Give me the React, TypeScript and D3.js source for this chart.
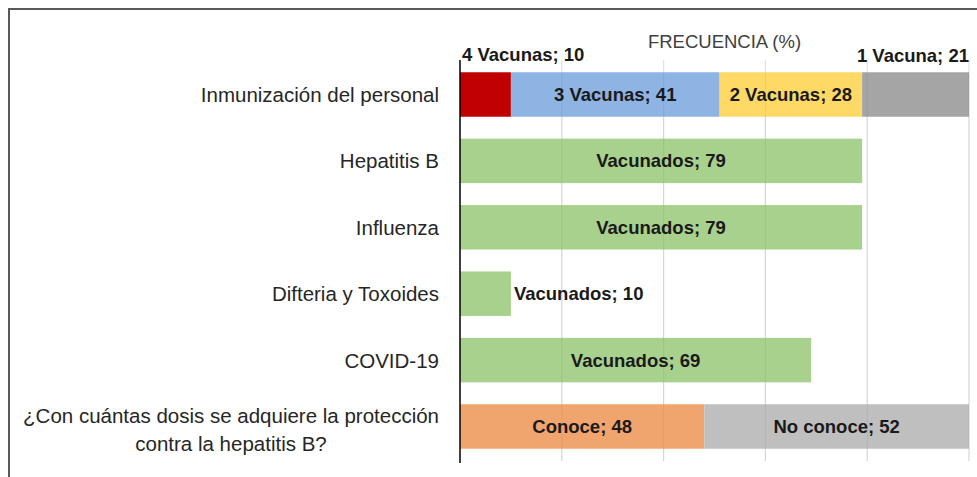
import React, { useEffect, useRef } from 'react';
import * as d3 from 'd3';

// categorias (de arriba a abajo)
const categories = [
  'Inmunización del personal',
  'Hepatitis B',
  'Influenza',
  'Difteria y Toxoides',
  'COVID-19',
  '¿Con cuántas dosis se adquiere la protección contra la hepatitis B?',
];

// fila 1: numero de vacunas
const doseSeries = ['4 Vacunas', '3 Vacunas', '2 Vacunas', '1 Vacuna'];
const doseValues = [10, 41, 28, 21];
const doseColors = ['#C00000', '#8DB4E2', '#FFD966', '#A5A5A5'];

// filas 2-5: vacunados
const vaccines = ['Hepatitis B', 'Influenza', 'Difteria y Toxoides', 'COVID-19'];
const vaccinatedValues = [79, 79, 10, 69];
const vaccinatedColor = '#A9D18E';

// fila 6: conocimiento
const knowledgeSeries = ['Conoce', 'No conoce'];
const knowledgeValues = [48, 52];
const knowledgeColors = ['#F1A56E', '#BFBFBF'];

const xTicks = [20, 40, 60, 80, 100];
const title = 'FRECUENCIA (%)';

const W = 977;
const H = 477;
const FONT = '"Liberation Sans", Arial, sans-serif';

type Seg = { cat: string; name: string; value: number; x0: number; x1: number; color: string; idx: number; n: number };

const makeRow = (cat: string, names: string[], values: number[], colors: string[]): Seg[] => {
  const ends = Array.from(d3.cumsum(values));
  return values.map((v, i) => ({
    cat, name: names[i], value: v, x0: ends[i] - v, x1: ends[i], color: colors[i], idx: i, n: values.length,
  }));
};

const App = () => {
  const svgRef = useRef<SVGSVGElement>(null);

  useEffect(() => {
    const svg = d3.select(svgRef.current);
    svg.selectAll('*').remove();

    const x = d3.scaleLinear().domain([0, 100]).range([460, 969]);
    const y = d3.scaleBand<string>().domain(categories).range([61.3, 459.7])
      .paddingInner(0.33).paddingOuter(0.165);

    const segs: Seg[] = [
      ...makeRow(categories[0], doseSeries, doseValues, doseColors),
      ...vaccines.map((c, i) => makeRow(c, ['Vacunados'], [vaccinatedValues[i]], [vaccinatedColor])[0]),
      ...makeRow(categories[5], knowledgeSeries, knowledgeValues, knowledgeColors),
    ];

    // marco
    svg.append('line').attr('x1', 8).attr('x2', W).attr('y1', 9).attr('y2', 9)
      .attr('stroke', '#595959').attr('stroke-width', 2);
    svg.append('line').attr('x1', 9).attr('x2', 9).attr('y1', 8).attr('y2', H)
      .attr('stroke', '#595959').attr('stroke-width', 2);

    const [yTop, yBot] = [60, 461];

    // grilla debajo
    svg.selectAll('line.grid')
      .data(xTicks)
      .enter()
      .append('line')
      .attr('class', 'grid')
      .attr('x1', d => x(d)).attr('x2', d => x(d))
      .attr('y1', yTop).attr('y2', yBot)
      .attr('stroke', '#E2E2E2').attr('stroke-width', 1.2);

    // barras
    svg.selectAll('rect.bar')
      .data(segs)
      .enter()
      .append('rect')
      .attr('class', 'bar')
      .attr('x', d => x(d.x0))
      .attr('y', d => y(d.cat)!)
      .attr('width', d => x(d.x1) - x(d.x0))
      .attr('height', y.bandwidth())
      .attr('fill', d => d.color);

    // grilla encima (se ve a traves de las barras)
    svg.selectAll('line.grid2')
      .data(xTicks)
      .enter()
      .append('line')
      .attr('x1', d => x(d)).attr('x2', d => x(d))
      .attr('y1', y(categories[0])!).attr('y2', yBot)
      .attr('stroke', '#000').attr('stroke-opacity', 0.05).attr('stroke-width', 1.2);

    // eje
    svg.append('line').attr('x1', x(0)).attr('x2', x(0)).attr('y1', yTop).attr('y2', yBot + 2)
      .attr('stroke', '#000').attr('stroke-width', 1.5);

    // titulo
    svg.append('text')
      .attr('x', (x(0) + x(100)) / 2 + 10)
      .attr('y', 48)
      .attr('text-anchor', 'middle')
      .attr('font-family', FONT)
      .attr('font-size', 18.5)
      .attr('fill', '#404040')
      .text(title);

    // etiquetas de categoria
    const labelRight = 439;
    categories.forEach(cat => {
      const cy = y(cat)! + y.bandwidth() / 2;
      const t = svg.append('text')
        .attr('font-family', FONT)
        .attr('font-size', 20.5)
        .attr('fill', '#262626');
      // wrap
      const words = cat.split(' ');
      const lines: string[] = [];
      let cur = '';
      const probe = t.append('tspan');
      words.forEach(w => {
        const test = cur ? cur + ' ' + w : w;
        probe.text(test);
        if ((probe.node() as SVGTSpanElement).getComputedTextLength() > 425 && cur) {
          lines.push(cur);
          cur = w;
        } else {
          cur = test;
        }
      });
      lines.push(cur);
      probe.remove();
      const widths: number[] = [];
      lines.forEach(l => {
        t.append('tspan').text(l);
      });
      t.selectAll('tspan').each(function () {
        widths.push((this as SVGTSpanElement).getComputedTextLength());
      });
      if (lines.length === 1) {
        t.attr('text-anchor', 'end');
        t.select('tspan').attr('x', labelRight).attr('y', cy + 7.5);
      } else {
        const maxW = d3.max(widths)!;
        const lh = 28;
        t.attr('text-anchor', 'middle');
        t.selectAll('tspan')
          .attr('x', labelRight - maxW / 2)
          .attr('y', (_, i) => cy + 10 - ((lines.length - 1) * lh) / 2 + i * lh);
      }
    });

    // etiquetas de datos
    segs.forEach(d => {
      const top = y(d.cat)!;
      const cy = top + y.bandwidth() / 2;
      const w = x(d.x1) - x(d.x0);
      const t = svg.append('text')
        .attr('font-family', FONT)
        .attr('font-size', 18.5)
        .attr('font-weight', 'bold')
        .attr('fill', '#1a1a1a')
        .text(`${d.name}; ${d.value}`);
      const tw = (t.node() as SVGTextElement).getComputedTextLength();
      if (tw + 8 < w) {
        t.attr('x', x((d.x0 + d.x1) / 2)).attr('y', cy + 6.5).attr('text-anchor', 'middle');
      } else if (d.n === 1) {
        t.attr('x', x(d.x1) + 3).attr('y', cy + 6.5).attr('text-anchor', 'start');
      } else if (d.idx === 0) {
        t.attr('x', x(d.x0) + 2).attr('y', top - 11).attr('text-anchor', 'start');
      } else {
        t.attr('x', x(d.x1)).attr('y', top - 10).attr('text-anchor', 'end');
      }
    });
  }, []);

  return (
    <svg ref={svgRef} width={W} height={H}
      style={{ position: 'absolute', left: 0, top: 0, background: '#fff' }} />
  );
};

export default App;
